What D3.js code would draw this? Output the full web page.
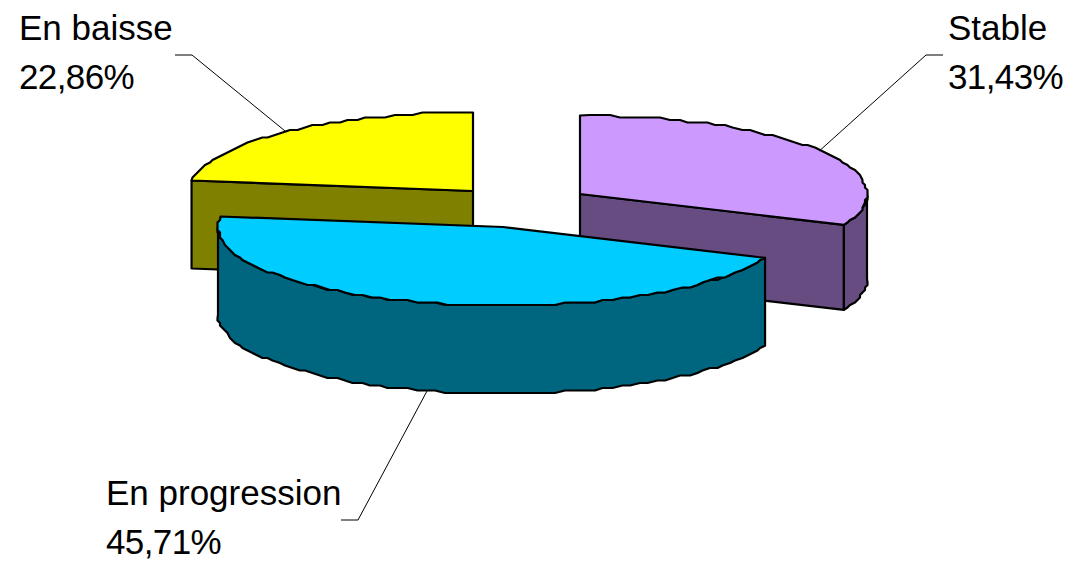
<!DOCTYPE html>
<html>
<head>
<meta charset="utf-8">
<script src="https://cdn.jsdelivr.net/npm/d3@7"></script>
<style>
    body { margin: 0; background: #fff; }
    text { font-family: "Liberation Sans", Arial, sans-serif; font-size: 35px; fill: #000; }
</style>
</head>
<body>
<svg id="chart" width="1070" height="562"></svg>
<script>
const categories = ['Stable', 'En progression', 'En baisse'];
const shares = [31.43, 45.71, 22.86];

const topColors = ['#cc99ff', '#00ccff', '#ffff00'];
const sideColors = ['#664c80', '#006680', '#808000'];

// exploded slice centres, in the same order as the categories
const centers = [[580, 194], [503, 227], [473, 191]];
const radiiX = [287, 285, 284];
const depths = [85, 88, 88];
const labelPos = [[948, 40], [106, 505], [19, 40]];
const elbows = [[926, 55], [358, 520], [192, 55]];
const stubs = [[943, 55], [341, 520], [175, 55]];
const drawOrder = [2, 0, 1];

const ry = 78.5;
const grid = 2.5; // the original outline is visibly stepped

const svg = d3.select('#chart');
const fr = d3.formatLocale({decimal: ',', thousands: ' ', grouping: [3], currency: ['', ' €']});
const pct = fr.format('.2f');
const line = d3.line();

const arcs = d3.pie().sort(null).value((d) => d)(shares);

const onRim = (i, a) => {
    return [centers[i][0] + radiiX[i] * Math.sin(a), centers[i][1] - ry * Math.cos(a)];
};

// rim from a0 to a1, interior points snapped to a grid to get the stepped look
const rim = (i, a0, a1) => {
    const n = Math.max(2, Math.round((a1 - a0) / 0.035));
    const pts = d3.range(n + 1).map((k) => {
        const p = onRim(i, a0 + (a1 - a0) * k / n);
        if (k === 0 || k === n) return p;
        return [Math.round(p[0] / grid) * grid, Math.round(p[1] / grid) * grid];
    });
    return pts;
};

const down = (i) => (p) => [p[0], p[1] + depths[i]];
const paint = (g, pts, fill) => {
    g.append('path')
        .attr('d', line(pts) + 'Z')
        .attr('fill', fill)
        .attr('stroke', '#000')
        .attr('stroke-width', 2.2)
        .attr('stroke-linejoin', 'round');
};

drawOrder.forEach((i) => {
    const d = arcs[i];
    const g = svg.append('g').attr('class', 'slice');
    const apex = centers[i];
    const start = onRim(i, d.startAngle);
    const end = onRim(i, d.endAngle);
    const drop = down(i);

    // radial walls facing the viewer
    if (i === 0) paint(g, [apex, end, drop(end), drop(apex)], sideColors[i]);
    if (i === 2) paint(g, [start, apex, drop(apex), drop(start)], sideColors[i]);

    // outer wall, only the front half of the ellipse shows
    const a0 = Math.max(d.startAngle, Math.PI / 2);
    const a1 = Math.min(d.endAngle, Math.PI * 1.5);
    if (a1 > a0) {
        const edge = rim(i, a0, a1);
        paint(g, edge.concat(edge.map(drop).reverse()), sideColors[i]);
    }

    paint(g, [apex].concat(rim(i, d.startAngle, d.endAngle)), topColors[i]);
});

// leader lines and labels
arcs.forEach((d, i) => {
    const mid = (d.startAngle + d.endAngle) / 2;
    let anchor = onRim(i, mid);
    if (Math.cos(mid) < 0) anchor = down(i)(anchor);
    svg.append('path')
        .attr('d', line([stubs[i], elbows[i], anchor]))
        .attr('fill', 'none')
        .attr('stroke', '#000')
        .attr('stroke-width', 1);

    const label = svg.append('text');
    label.append('tspan').attr('x', labelPos[i][0]).attr('y', labelPos[i][1]).text(categories[i]);
    label.append('tspan').attr('x', labelPos[i][0]).attr('y', labelPos[i][1] + 49)
        .attr('letter-spacing', '-0.6px')
        .text(pct(d.data) + '%');
});
</script>
</body>
</html>
